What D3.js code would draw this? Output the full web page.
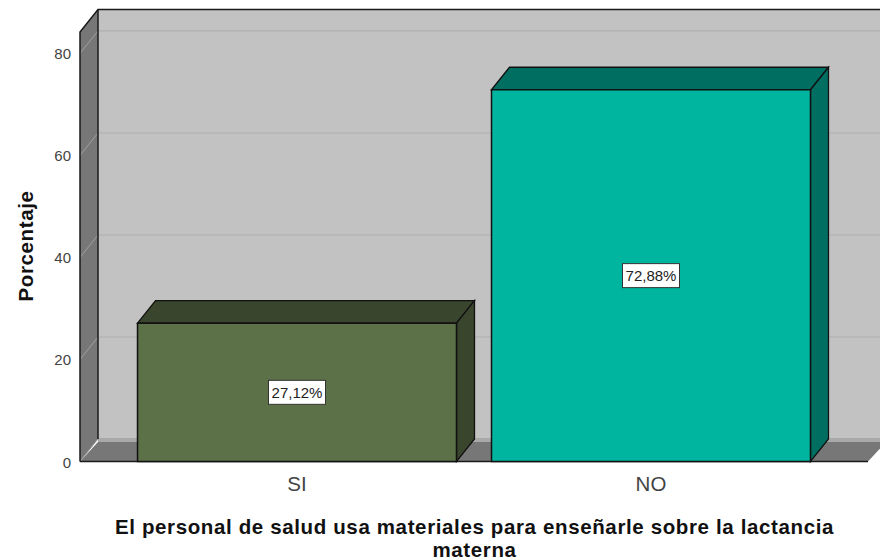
<!DOCTYPE html>
<html><head><meta charset="utf-8">
<script src="https://cdn.jsdelivr.net/npm/d3@7"></script>
<style>html,body{margin:0;padding:0;background:#fff}svg{display:block}text{font-family:"Liberation Sans",Arial,sans-serif}</style>
</head><body><div id="c"></div>
<script>
const categories = ["SI", "NO"];
const values = [27.12, 72.88];
const valueLabels = ["27,12%", "72,88%"];
const yTicks = [0, 20, 40, 60, 80];
const yMax = 84.2;
const frontColors = ["#5c7148", "#00b5a0"];
const sideColors = ["#39452c", "#006f62"];
const xTitleLines = ["El personal de salud usa materiales para enseñarle sobre la lactancia", "materna"];
const yTitle = "Porcentaje";

const W = 880, H = 560, dx = 18, dy = -22.5;
const svg = d3.select("#c").append("svg").attr("width", W).attr("height", H);
const x = d3.scaleBand().domain(categories).range([80, 868]).paddingInner(0.0989).paddingOuter(0.1625);
const y = d3.scaleLinear().domain([0, yMax]).range([461.5, 32]);
const poly = (pts, fill, stroke, sw) => svg.append("polygon").attr("points", pts.map(p => p.join(",")).join(" "))
  .attr("fill", fill).attr("stroke", stroke || "none").attr("stroke-width", sw || 0).attr("stroke-linejoin", "miter");

const x0 = x.range()[0], x1 = x.range()[1], y0 = y(0), yT = y(yMax);
// back wall
poly([[x0 + dx, yT + dy], [W + 2, yT + dy], [W + 2, y0 + dy], [x0 + dx, y0 + dy]], "#c2c2c2");
// back wall lower shadow strip
svg.append("rect").attr("x", x0 + dx).attr("y", y0 + dy - 1).attr("width", W - x0 - dx).attr("height", 4).attr("fill", "#a9a9a9");
// floor
poly([[x0, y0], [x1, y0], [x1 + dx, y0 + dy + 3], [x0 + dx, y0 + dy + 3]], "#777777");
// left wall
poly([[x0, yT], [x0 + dx, yT + dy], [x0 + dx, y0 + dy], [x0, y0]], "#777777");
// grid
yTicks.forEach(t => {
  if (t > 0) svg.append("line").attr("x1", x0 + dx).attr("x2", W).attr("y1", y(t) + dy).attr("y2", y(t) + dy)
    .attr("stroke", "#b4b4b4").attr("stroke-width", 1.6);
  svg.append("line").attr("x1", x0).attr("x2", x0 + dx).attr("y1", y(t)).attr("y2", y(t) + dy)
    .attr("stroke", "#a0a0a0").attr("stroke-width", 1);
});
// frame
const frame = "#1a1a1a";
svg.append("path").attr("d", `M${x0},${y0}L${x0},${yT}L${x0 + dx},${yT + dy}L${W},${yT + dy}`).attr("fill", "none").attr("stroke", frame).attr("stroke-width", 1.5);
svg.append("path").attr("d", `M${x0 + dx},${yT + dy}L${x0 + dx},${y0 + dy}`).attr("fill", "none").attr("stroke", frame).attr("stroke-width", 1.5);
svg.append("path").attr("d", `M${x0},${y0}L${x1},${y0}`).attr("fill", "none").attr("stroke", frame).attr("stroke-width", 1.5);

// bars
categories.forEach((c, i) => {
  const l = x(c), r = l + x.bandwidth(), t = y(values[i]), b = y(0);
  poly([[l, t], [l + dx, t + dy], [r + dx, t + dy], [r, t]], sideColors[i], "#111", 1.3);
  poly([[r, t], [r + dx, t + dy], [r + dx, b + dy], [r, b]], sideColors[i], "#111", 1.3);
  poly([[l, t], [r, t], [r, b], [l, b]], frontColors[i], "#111", 1.5);
});
// value labels
categories.forEach((c, i) => {
  const cx = x(c) + x.bandwidth() / 2, cy = y(values[i] / 2);
  svg.append("rect").attr("x", cx - 28.5).attr("y", cy - 12).attr("width", 57).attr("height", 24)
    .attr("fill", "#fff").attr("stroke", "#333").attr("stroke-width", 1);
  svg.append("text").attr("x", cx).attr("y", cy + 5.5).attr("text-anchor", "middle").attr("font-size", 15).attr("fill", "#222").text(valueLabels[i]);
});
// y axis labels
yTicks.forEach(t => {
  svg.append("text").attr("x", 71).attr("y", y(t) + 6).attr("text-anchor", "end").attr("font-size", 15).attr("fill", "#444").text(t);
});
// x axis labels
categories.forEach(c => {
  svg.append("text").attr("x", x(c) + x.bandwidth() / 2).attr("y", 491).attr("text-anchor", "middle").attr("font-size", 20.5).attr("fill", "#444").text(c);
});
// titles
xTitleLines.forEach((s, i) => {
  svg.append("text").attr("x", 474.5).attr("y", 534 + i * 23).attr("text-anchor", "middle").attr("font-size", 20.5).attr("letter-spacing", 0.63).attr("font-weight", "bold").attr("fill", "#111").text(s);
});
svg.append("text").attr("transform", "translate(33,246) rotate(-90)").attr("text-anchor", "middle").attr("font-size", 20.5).attr("letter-spacing", 0.63).attr("font-weight", "bold").attr("fill", "#111").text(yTitle);
</script></body></html>
